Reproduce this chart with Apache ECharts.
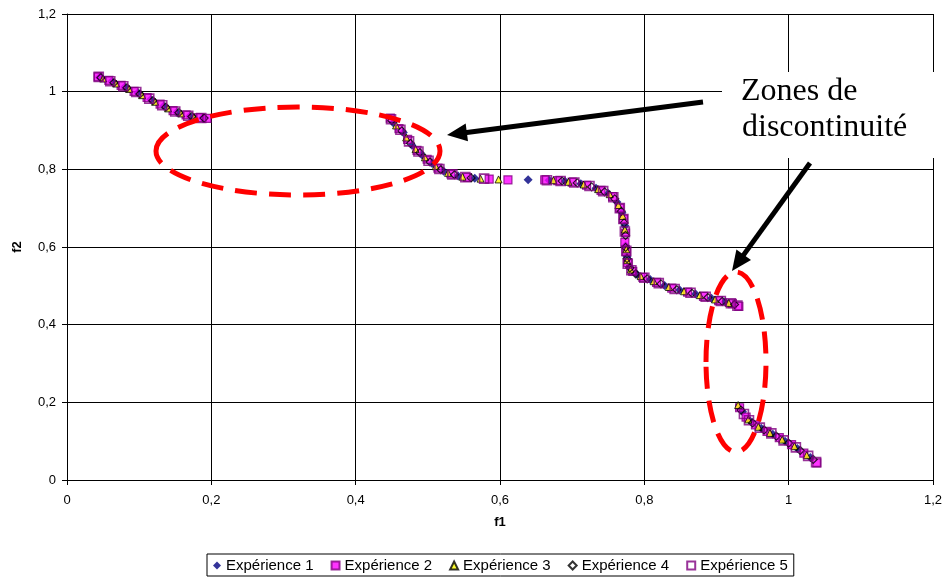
<!DOCTYPE html>
<html>
<head>
<meta charset="utf-8">
<script src="https://cdn.jsdelivr.net/npm/echarts@6.0.0/dist/echarts.min.js"></script>
<style>
  html, body { margin: 0; padding: 0; background: #fff; }
  #main { width: 946px; height: 577px; }
</style>
</head>
<body>
<div id="main"></div>
<script>
// valeurs (f1, f2)
const seriesNames = ['Expérience 1', 'Expérience 2', 'Expérience 3', 'Expérience 4', 'Expérience 5']
const axisTicks = [0, 0.2, 0.4, 0.6, 0.8, 1, 1.2]

const exp1 = [
  [0.045, 1.037], [0.062, 1.026], [0.080, 1.012], [0.098, 0.997], [0.116, 0.980], [0.134, 0.963], [0.152, 0.947], [0.170, 0.937], [0.188, 0.932],
  [0.452, 0.920], [0.466, 0.895], [0.478, 0.862], [0.492, 0.837], [0.506, 0.815], [0.522, 0.795], [0.542, 0.783], [0.565, 0.777], [0.639, 0.773],
  [0.668, 0.772], [0.690, 0.769], [0.712, 0.763], [0.733, 0.751], [0.750, 0.738], [0.762, 0.716], [0.769, 0.688], [0.773, 0.655], [0.774, 0.603],
  [0.776, 0.575], [0.779, 0.549], [0.790, 0.529], [0.808, 0.516], [0.828, 0.501], [0.849, 0.489], [0.871, 0.479], [0.893, 0.468], [0.912, 0.459],
  [0.936, 0.176], [0.947, 0.151], [0.962, 0.133], [0.978, 0.118], [0.995, 0.100], [1.012, 0.081], [1.030, 0.058]
]
const exp2 = [
  [0.043, 1.038], [0.058, 1.029], [0.075, 1.016], [0.093, 1.001], [0.111, 0.985], [0.129, 0.968], [0.147, 0.951], [0.165, 0.940], [0.183, 0.933], [0.194, 0.931],
  [0.448, 0.932], [0.460, 0.905], [0.472, 0.877], [0.485, 0.849], [0.499, 0.826], [0.514, 0.803], [0.532, 0.788], [0.555, 0.779], [0.585, 0.775], [0.611, 0.773],
  [0.662, 0.773], [0.680, 0.771], [0.700, 0.767], [0.720, 0.759], [0.740, 0.746], [0.756, 0.730], [0.766, 0.700], [0.771, 0.672], [0.774, 0.636],
  [0.773, 0.612], [0.775, 0.588], [0.777, 0.560], [0.784, 0.537], [0.798, 0.522], [0.817, 0.509], [0.838, 0.494], [0.860, 0.484], [0.882, 0.473],
  [0.903, 0.462], [0.922, 0.454], [0.931, 0.447],
  [0.932, 0.186], [0.941, 0.162], [0.954, 0.142], [0.970, 0.125], [0.987, 0.109], [1.004, 0.091], [1.021, 0.069], [1.039, 0.044]
]
const exp3 = [
  [0.050, 1.034], [0.068, 1.021], [0.086, 1.007], [0.104, 0.991], [0.122, 0.974], [0.140, 0.957], [0.158, 0.944], [0.176, 0.935],
  [0.456, 0.913], [0.470, 0.882], [0.483, 0.852], [0.496, 0.831], [0.511, 0.808], [0.528, 0.791], [0.548, 0.781], [0.573, 0.776], [0.598, 0.774],
  [0.674, 0.772], [0.695, 0.768], [0.716, 0.761], [0.736, 0.749], [0.752, 0.736], [0.764, 0.708], [0.770, 0.680], [0.773, 0.645], [0.775, 0.594],
  [0.776, 0.566], [0.781, 0.542], [0.795, 0.525], [0.813, 0.512], [0.834, 0.497], [0.855, 0.486], [0.877, 0.476], [0.898, 0.465], [0.917, 0.456],
  [0.930, 0.193], [0.944, 0.156], [0.958, 0.137], [0.974, 0.121], [0.991, 0.104], [1.008, 0.087], [1.025, 0.064]
]
const exp4 = [
  [0.047, 1.036], [0.065, 1.023], [0.083, 1.010], [0.101, 0.994], [0.119, 0.977], [0.137, 0.960], [0.155, 0.946], [0.173, 0.936], [0.190, 0.932],
  [0.450, 0.926], [0.464, 0.899], [0.476, 0.867], [0.489, 0.843], [0.503, 0.819], [0.518, 0.799], [0.537, 0.786], [0.560, 0.778],
  [0.686, 0.770], [0.707, 0.765], [0.727, 0.755], [0.745, 0.742], [0.759, 0.724], [0.768, 0.692], [0.772, 0.662], [0.774, 0.630], [0.774, 0.599],
  [0.776, 0.570], [0.780, 0.546], [0.788, 0.531], [0.804, 0.518], [0.823, 0.505], [0.845, 0.490], [0.866, 0.481], [0.888, 0.470], [0.908, 0.460], [0.925, 0.452],
  [0.934, 0.180], [0.950, 0.147], [0.966, 0.129], [0.983, 0.113], [1.000, 0.095], [1.016, 0.076], [1.034, 0.053]
]
const exp5 = [
  [0.044, 1.038], [0.060, 1.027], [0.078, 1.014], [0.096, 0.999], [0.114, 0.982], [0.132, 0.965], [0.150, 0.949], [0.168, 0.938], [0.186, 0.932],
  [0.449, 0.929], [0.462, 0.902], [0.474, 0.872], [0.487, 0.846], [0.501, 0.822], [0.516, 0.801], [0.534, 0.787], [0.552, 0.780], [0.578, 0.776],
  [0.665, 0.772], [0.684, 0.770], [0.703, 0.766], [0.724, 0.757], [0.743, 0.744], [0.757, 0.728], [0.766, 0.700], [0.771, 0.672], [0.773, 0.640],
  [0.775, 0.590], [0.777, 0.557], [0.782, 0.540], [0.800, 0.521], [0.820, 0.507], [0.842, 0.492], [0.864, 0.482], [0.885, 0.472], [0.906, 0.461],
  [0.920, 0.455], [0.929, 0.449],
  [0.938, 0.170], [0.945, 0.154], [0.960, 0.135], [0.976, 0.120], [0.993, 0.102], [1.010, 0.084], [1.027, 0.062], [1.038, 0.046]
]

const chart = echarts.init(document.getElementById('main'))

const fmt = v => String(+v.toFixed(1)).replace('.', ',')

const axisCommon = {
  type: 'value',
  min: axisTicks[0],
  max: axisTicks[axisTicks.length - 1],
  interval: 0.2,
  nameLocation: 'middle',
  nameTextStyle: { color: '#000', fontWeight: 'bold', fontSize: 13, fontFamily: 'Liberation Sans, Arial' },
  axisLine: { show: true, onZero: false, lineStyle: { color: '#000', width: 1 } },
  axisTick: { show: true, inside: false, length: 5, lineStyle: { color: '#000' } },
  axisLabel: { color: '#000', fontSize: 13, fontFamily: 'Liberation Sans, Arial', margin: 11, formatter: fmt },
  splitLine: { show: true, lineStyle: { color: '#000', width: 1 } }
}

// marqueurs façon Excel
const styles = [
  { symbol: 'diamond', symbolSize: 9, itemStyle: { color: '#000080' } },
  { symbol: 'rect', symbolSize: 8, itemStyle: { color: '#FF00FF', borderColor: '#800080', borderWidth: 1.2 } },
  { symbol: 'triangle', symbolSize: 7, itemStyle: { color: '#FFFF00', borderColor: '#000', borderWidth: 1 } },
  { symbol: 'diamond', symbolSize: 8, itemStyle: { color: 'rgba(255,255,255,0)', borderColor: '#000', borderWidth: 1.2 } },
  { symbol: 'rect', symbolSize: 9, itemStyle: { color: 'rgba(255,255,255,0)', borderColor: '#800080', borderWidth: 1.6 } }
]
const allData = [exp1, exp2, exp3, exp4, exp5]

const series = allData.map((d, i) => ({
  name: seriesNames[i],
  type: 'scatter',
  data: d,
  symbol: styles[i].symbol,
  symbolSize: styles[i].symbolSize,
  itemStyle: styles[i].itemStyle,
  emphasis: { disabled: true },
  z: 2 + i
}))

// flèches
function arrow(x1, y1, x2, y2) {
  const len = 20, half = 9
  const dx = x2 - x1, dy = y2 - y1
  const d = Math.sqrt(dx * dx + dy * dy)
  const ux = dx / d, uy = dy / d
  const bx = x2 - ux * len, by = y2 - uy * len
  return [
    { type: 'line', z: 110, shape: { x1: x1, y1: y1, x2: bx + ux * 2, y2: by + uy * 2 }, style: { stroke: '#000', lineWidth: 5 } },
    { type: 'polygon', z: 110, shape: { points: [[x2, y2], [bx - uy * half, by + ux * half], [bx + uy * half, by - ux * half]] }, style: { fill: '#000' } }
  ]
}

const dash = { fill: 'none', stroke: '#FF0000', lineWidth: 5, lineDash: [22, 12] }

const graphic = [
  { type: 'rect', z: 100, shape: { x: 722, y: 72, width: 224, height: 86 }, style: { fill: '#fff' } },
  { type: 'text', z: 101, left: 741, top: 76, style: { text: 'Zones de', fontSize: 32, fontFamily: 'Liberation Serif, Times New Roman, serif', fill: '#000' } },
  { type: 'text', z: 101, left: 742, top: 112, style: { text: 'discontinuité', fontSize: 32, fontFamily: 'Liberation Serif, Times New Roman, serif', fill: '#000' } },
  { type: 'ellipse', z: 105, shape: { cx: 298, cy: 151, rx: 142, ry: 44 }, style: dash },
  { type: 'ellipse', z: 105, shape: { cx: 736, cy: 362, rx: 30, ry: 90 }, style: dash }
].concat(arrow(703, 102, 447, 135), arrow(810, 163, 732, 271))

const option = {
  backgroundColor: '#fff',
  animation: false,
  grid: { left: 67, right: 13, top: 14, bottom: 97, outerBoundsMode: 'none' },
  xAxis: Object.assign({}, axisCommon, {
    name: 'f1',
    nameGap: 36,
    axisLabel: Object.assign({}, axisCommon.axisLabel, { margin: 14 })
  }),
  yAxis: Object.assign({}, axisCommon, { name: 'f2', nameGap: 43 }),
  legend: {
    bottom: 1,
    left: 207,
    orient: 'horizontal',
    backgroundColor: '#fff',
    borderColor: '#000',
    borderWidth: 1,
    borderRadius: 0,
    padding: [4, 6, 3, 6],
    itemGap: 17,
    itemWidth: 8,
    itemHeight: 8,
    textStyle: { color: '#000', fontSize: 15, fontFamily: 'Liberation Sans, Arial' },
    data: seriesNames
  },
  series: series,
  graphic: graphic
}

chart.setOption(option)
</script>
</body>
</html>
